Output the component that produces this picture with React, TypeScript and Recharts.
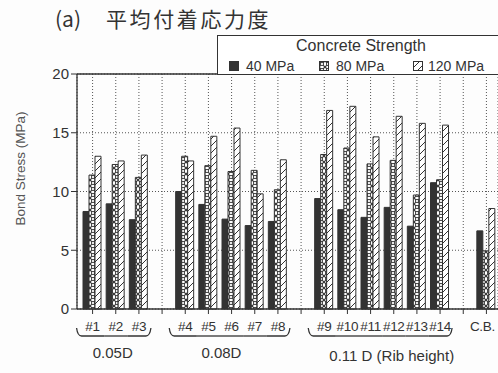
import React from 'react';
import { BarChart, Bar, XAxis, YAxis, CartesianGrid, ReferenceLine, Legend } from 'recharts';

// specimens along the x axis; '' marks the empty slot between rib-height groups
const categories = ['#1', '#2', '#3', '', '#4', '#5', '#6', '#7', '#8', '', '#9', '#10', '#11', '#12', '#13', '#14', '', 'C.B.'];

// average bond stress (MPa) per concrete strength
const mpa40 = [8.3, 8.95, 7.6, null, 10.0, 8.9, 7.65, 7.1, 7.45, null, 9.4, 8.45, 7.8, 8.65, 7.05, 10.75, null, 6.65];
const mpa80 = [11.4, 12.3, 11.2, null, 13.0, 12.2, 11.7, 11.8, 10.15, null, 13.15, 13.7, 12.35, 12.65, 9.7, 11.0, null, 4.95];
const mpa120 = [13.0, 12.6, 13.1, null, 12.6, 14.7, 15.4, 9.8, 12.7, null, 16.9, 17.25, 14.65, 16.4, 15.8, 15.65, null, 8.55];

const seriesNames = ['40 MPa', '80 MPa', '120 MPa'];
const yTicks = [0, 5, 10, 15, 20];

// rib height groups: first and last category index, and caption
const groupSpans = [[0, 2], [4, 8], [10, 15]];
const groupLabels = ['0.05D', '0.08D', '0.11 D (Rib height)'];

const data = categories.map((name, i) => ({
  idx: i,
  name,
  mpa40: mpa40[i],
  mpa80: mpa80[i],
  mpa120: mpa120[i],
}));

const W = 498;
const H = 373;
const Y_AXIS_W = 77;
const PAD_LEFT = 4;
const BAND = (W - Y_AXIS_W - PAD_LEFT) / categories.length;
const INK = '#333';
const FONT = '"Liberation Sans", Arial, sans-serif';

// where each group caption sits (category index + nudge)
const labelAt = [1, 5, 13];
const labelDx = [-3, 13, -2];

function CategoryTick(props: any) {
  const { x, y, payload } = props;
  const i = Number(payload.value);
  const g = groupSpans.findIndex(([a, b]) => i >= a && i <= b);
  const by = y + 20;
  let brace = null;
  if (g >= 0) {
    const [a, b] = groupSpans[g];
    const half = BAND / 2;
    let d = '';
    if (i === a) {
      const xl = x - 16;
      d = `M${xl},${by - 8} Q${xl + 1},${by} ${xl + 5},${by} L${x + half},${by}`;
    } else if (i === b) {
      const xr = x + 12;
      d = `M${x - half},${by} L${xr - 5},${by} Q${xr - 1},${by} ${xr},${by - 8}`;
    } else {
      d = `M${x - half},${by} L${x + half},${by}`;
    }
    brace = <path d={d} fill="none" stroke={INK} strokeWidth={1.3} />;
  }
  const li = labelAt.indexOf(i);
  const last = i === categories.length - 1;
  return (
    <g>
      <text
        x={x + (last ? -4 : 0)}
        y={y + 15}
        textAnchor="middle"
        fontSize={13.5}
        letterSpacing={-0.3}
        fill={INK}
        fontFamily={FONT}
      >
        {categories[i]}
      </text>
      {brace}
      {li >= 0 && (
        <text
          x={x + labelDx[li]}
          y={y + (li === 2 ? 45 : 42)}
          textAnchor="middle"
          fontSize={15}
          fill={INK}
          fontFamily={FONT}
        >
          {groupLabels[li]}
        </text>
      )}
    </g>
  );
}

function Swatch({ fill }: { fill: string }) {
  return (
    <svg width={10} height={10} style={{ display: 'block' }}>
      <rect x={0.5} y={0.5} width={9} height={9} fill={fill} stroke={INK} strokeWidth={1} />
    </svg>
  );
}

const swatchFills = [INK, 'url(#dots80)', 'url(#hatch120)'];
const itemLeft = [11, 101, 195];

function StrengthLegend() {
  return (
    <div
      style={{
        position: 'relative',
        width: 300,
        height: 40,
        boxSizing: 'border-box',
        border: `1px solid ${INK}`,
        borderRight: 'none',
        background: '#fff',
        fontFamily: FONT,
        color: INK,
      }}
    >
      <div style={{ position: 'absolute', left: 0, width: 286, top: 1, textAlign: 'center', fontSize: 16 }}>
        Concrete Strength
      </div>
      {seriesNames.map((n, k) => (
        <div
          key={n}
          style={{ position: 'absolute', left: itemLeft[k], top: 22, display: 'flex', alignItems: 'center', fontSize: 14 }}
        >
          <Swatch fill={swatchFills[k]} />
          <span style={{ marginLeft: k === 2 ? 5 : 7 }}>{n}</span>
        </div>
      ))}
    </div>
  );
}

const titleStyle: React.CSSProperties = {
  position: 'absolute',
  top: 3,
  fontSize: 21,
  color: INK,
  fontFamily: '"Noto Sans CJK JP", sans-serif',
  whiteSpace: 'nowrap',
};

export default function App() {
  return (
    <div style={{ position: 'absolute', left: 0, top: 0, width: W, height: H, overflow: 'hidden', background: '#fdfdfd' }}>
      <div style={{ ...titleStyle, left: 55 }}>(a)</div>
      <div style={{ ...titleStyle, left: 106, letterSpacing: 2.6 }}>平均付着応力度</div>
      <BarChart
        width={W}
        height={H}
        data={data}
        margin={{ top: 74, right: 0, left: 0, bottom: 0 }}
        barCategoryGap={2}
        barGap={0}
      >
        <defs>
          <pattern id="dots80" width={6} height={6} patternUnits="userSpaceOnUse">
            <rect width={6} height={6} fill="#fff" />
            <path d="M0,0 L6,6 M6,0 L0,6" stroke={INK} strokeWidth={1.2} />
            <circle cx={3} cy={3} r={1.6} fill="#fff" stroke={INK} strokeWidth={0.9} />
          </pattern>
          <pattern id="hatch120" width={7} height={7} patternUnits="userSpaceOnUse">
            <rect width={7} height={7} fill="#fff" />
            <path d="M0,7 L7,0 M-1,1 L1,-1 M6,8 L8,6" stroke={INK} strokeWidth={1} />
          </pattern>
        </defs>
        <CartesianGrid stroke="#555" strokeDasharray="1 2" />
        <XAxis
          dataKey="idx"
          type="category"
          height={64}
          padding={{ left: PAD_LEFT, right: 0 }}
          axisLine={{ stroke: INK, strokeWidth: 1.3 }}
          tickLine={{ stroke: INK }}
          tickSize={5}
          interval={0}
          tick={<CategoryTick />}
        />
        <YAxis
          width={Y_AXIS_W}
          domain={[0, 20]}
          ticks={yTicks}
          interval={0}
          tickSize={6}
          axisLine={{ stroke: INK, strokeWidth: 1.3 }}
          tickLine={{ stroke: INK }}
          tick={{ fill: INK, fontSize: 15, fontFamily: FONT }}
          label={{
            value: 'Bond Stress (MPa)',
            angle: -90,
            position: 'insideLeft',
            offset: 20,
            dy: -23,
            style: { fill: '#555', fontSize: 13.5, fontFamily: FONT, textAnchor: 'middle' },
          }}
        />
        <ReferenceLine y={20} stroke={INK} strokeWidth={1.3} />
        <Legend verticalAlign="middle" content={<StrengthLegend />} wrapperStyle={{ left: 217, top: 35, width: 300 }} />
        <Bar dataKey="mpa40" name={seriesNames[0]} fill={INK} stroke={INK} strokeWidth={1} isAnimationActive={false} />
        <Bar dataKey="mpa80" name={seriesNames[1]} fill="url(#dots80)" stroke={INK} strokeWidth={1} isAnimationActive={false} />
        <Bar dataKey="mpa120" name={seriesNames[2]} fill="url(#hatch120)" stroke={INK} strokeWidth={1} isAnimationActive={false} />
      </BarChart>
    </div>
  );
}
